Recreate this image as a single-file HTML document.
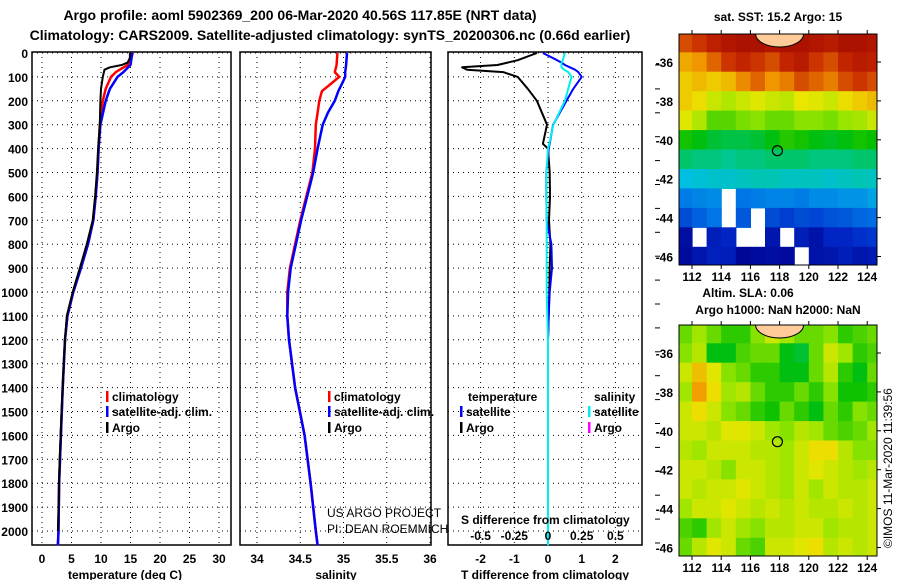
<!DOCTYPE html>
<html><head><meta charset="utf-8"><style>
body{margin:0;background:#fff}
svg{display:block;font-family:"Liberation Sans",sans-serif}
.b{font-weight:bold}
</style></head><body>
<svg id="fig" width="900" height="580" viewBox="0 0 900 580">
<text x="300" y="20" text-anchor="middle" font-size="14" class="b">Argo profile: aoml 5902369_200 06-Mar-2020 40.56S 117.85E (NRT data)</text>
<text x="330" y="40" text-anchor="middle" font-size="14" class="b">Climatology: CARS2009. Satellite-adjusted climatology: synTS_20200306.nc (0.66d earlier)</text>
<text x="778" y="21" text-anchor="middle" font-size="12" class="b">sat. SST: 15.2 Argo: 15</text>
<text x="748" y="297" text-anchor="middle" font-size="12" class="b">Altim. SLA: 0.06</text>
<text x="778" y="314" text-anchor="middle" font-size="12" class="b">Argo h1000: NaN h2000: NaN</text>
<text transform="translate(892,548) rotate(-90)" font-size="12">©IMOS 11-Mar-2020 11:39:56</text>
<g id="panels"></g>
<g id="maps"></g>
</svg>
<script>
// ---- profile data ----
const depthTick = [0,100,200,300,400,500,600,700,800,900,1000,1100,1200,1300,1400,1500,1600,1700,1800,1900,2000];
const tempTicks = [0,5,10,15,20,25,30];
const salTicks = [34,34.5,35,35.5,36];
const salTickLabels = ['34','34.5','35','35.5','36'];
const tdTicks = [-2,-1,0,1,2];
const sdTicks = [-0.5,-0.25,0,0.25,0.5];

const argoTD = [0,20,40,50,60,70,100,150,200,300,400,500,600,700,800,900,1000,1100,1200,1300,1400,1500,1700,1900,2000];
const argoT  = [14.9,14.9,14.5,13.5,11.5,10.6,10.3,10.0,9.9,9.8,9.5,9.3,9.0,8.6,7.6,6.4,5.2,4.2,3.9,3.7,3.5,3.3,3.0,2.8,2.7];
const climTD = [0,50,80,100,150,200,300,400,500,600,700,800,900,1000,1100,1200,1400,1600,1800,2000,2060];
const climT  = [15.4,14.5,12.5,11.7,10.8,10.3,9.8,9.6,9.4,9.1,8.7,7.8,6.6,5.3,4.3,3.9,3.5,3.2,2.9,2.8,2.7];
const satT   = [15.3,15.0,13.8,12.8,11.5,10.8,9.9,9.6,9.4,9.1,8.7,7.8,6.6,5.3,4.3,3.9,3.5,3.2,2.9,2.8,2.7];
const salD   = [0,50,80,100,130,160,200,250,300,400,500,600,700,800,900,1000,1100,1200,1400,1600,1800,2000,2060];
const climS  = [34.93,34.92,34.90,34.95,34.85,34.75,34.72,34.70,34.68,34.67,34.64,34.57,34.50,34.44,34.38,34.35,34.35,34.37,34.44,34.55,34.62,34.68,34.70];
const satS   = [35.04,35.03,35.02,35.02,34.98,34.94,34.90,34.82,34.76,34.70,34.65,34.58,34.51,34.45,34.39,34.36,34.35,34.37,34.44,34.55,34.62,34.68,34.70];
const diffD  = [0,30,40,50,60,70,80,100,150,200,300,380,400,500,600,700,800,900,1000,1100,1200,1500,2000,2060];
const argoTdiff = [-0.33,-0.9,-1.2,-1.5,-2.55,-2.4,-1.33,-0.9,-0.6,-0.33,-0.03,-0.15,0,0.05,0.06,0.03,0.07,0.05,0.04,0.02,0,0,0,0];
const satTdiff  = [-0.15,0.27,0.4,0.5,0.65,0.8,0.9,1.0,0.75,0.55,0.15,0.05,0.02,-0.05,-0.05,-0.04,0.1,0.12,0.05,0.02,0,0,0,0];
const satSdiff  = [0.125,0.11,0.1,0.1,0.1,0.12,0.15,0.175,0.15,0.125,0.04,0.01,0,-0.012,-0.012,-0.01,-0.01,-0.01,-0.01,-0.005,0,0,0,0];

// ---- map data (SST degC, rows lat -35..-46, cols lon 111.5..124.5) ----
const mapLats = [-35,-36,-37,-38,-39,-40,-41,-42,-43,-44,-45,-46];
const sstRows = [
 [18.8,19.0,19.3,19.5,19.6,19.6,19.5,19.6,19.6,19.5,19.4,19.6,19.6,19.5],
 [18.0,18.2,18.6,19.0,19.2,19.0,18.8,19.2,19.4,19.0,18.8,19.2,19.4,19.3],
 [17.6,17.8,17.6,17.8,18.3,18.6,18.2,18.4,18.8,18.6,18.4,18.8,19.0,18.8],
 [17.6,17.4,17.0,16.8,17.0,17.2,17.0,16.9,17.3,17.2,17.0,17.4,17.6,17.8],
 [17.2,16.8,16.2,16.2,16.4,16.5,16.3,16.3,16.5,16.5,16.4,16.6,16.7,17.0],
 [15.8,15.6,15.4,15.3,15.3,15.4,15.6,15.9,15.8,15.6,15.5,15.6,15.8,15.7],
 [15.1,15.0,15.0,14.9,15.0,15.0,15.1,15.1,15.1,15.0,15.0,15.0,15.1,15.1],
 [14.2,14.3,14.4,14.4,14.5,14.6,14.6,14.5,14.5,14.5,14.4,14.5,14.6,14.5],
 [13.3,13.4,13.5,null,13.2,13.3,13.4,13.4,13.3,13.5,13.5,13.6,13.6,13.8],
 [12.6,12.9,13.2,null,12.8,null,12.6,12.4,12.6,12.5,12.7,12.8,13.0,13.1],
 [11.4,null,11.8,12.0,null,null,11.6,null,11.8,11.5,12.0,12.0,12.2,12.3],
 [11.3,11.6,11.9,11.8,11.2,11.3,11.4,11.3,null,11.5,11.6,11.8,11.6,11.7]
];
const slaRows = [
 [0.02,0.04,0.02,0.00,0.00,0.03,0.06,0.04,0.02,0.02,0.03,0.00,0.01,0.02],
 [0.03,0.05,-0.02,-0.02,0.01,0.02,0.02,-0.02,-0.03,0.02,0.06,0.04,0.00,0.01],
 [0.06,0.10,0.07,0.03,0.02,0.00,0.00,-0.02,-0.02,0.02,0.05,0.00,-0.02,0.02],
 [0.04,0.12,0.08,0.04,0.05,0.02,0.00,0.00,0.02,0.00,0.03,-0.01,-0.01,0.00],
 [0.06,0.08,0.06,0.03,0.02,0.00,-0.01,0.02,0.00,-0.02,0.02,0.00,0.03,0.02],
 [0.06,0.06,0.05,0.07,0.07,0.06,0.04,0.03,0.05,0.04,0.02,0.01,0.02,0.04],
 [0.05,0.04,0.06,0.06,0.06,0.05,0.05,0.04,0.06,0.08,0.08,0.05,0.03,0.03],
 [0.06,0.06,0.05,0.03,0.06,0.06,0.05,0.04,0.06,0.07,0.06,0.05,0.04,0.05],
 [0.06,0.05,0.06,0.06,0.07,0.06,0.05,0.04,0.06,0.04,0.06,0.05,0.05,0.06],
 [0.04,0.06,0.06,0.07,0.06,0.05,0.06,0.05,0.06,0.05,0.05,0.06,0.05,0.06],
 [0.01,0.00,0.04,0.06,0.04,0.03,0.05,0.05,0.06,0.06,0.04,0.05,0.05,0.06],
 [0.02,0.05,0.07,0.06,0.02,0.01,0.06,0.06,0.07,0.08,0.05,0.06,0.05,0.06]
];
const mapLonTicks = [112,114,116,118,120,122,124];
const mapLatTicks = [-36,-38,-40,-42,-44,-46];
const argoLon = 117.85, argoLat = -40.56;

const NS='http://www.w3.org/2000/svg';
function mk(p,tag,at){const e=document.createElementNS(NS,tag);for(const k in at)e.setAttribute(k,at[k]);p.appendChild(e);return e;}
const P=document.getElementById('panels');
const yD=d=>53+d*0.239;
const pTop=52,pBot=545;

function panel(name,x0,x1,toX,ticks,labels,xtitle,titleX){
  const g=mk(P,'g',{});
  
  
  ticks.forEach((t,i)=>{
    const x=toX(t);
    const l=mk(g,'line',{x1:x,x2:x,y1:pTop,y2:pBot,stroke:'#000','stroke-width':1,'stroke-dasharray':'1 4'});
    
    
    const tx=mk(g,'text',{x:x,y:563,'text-anchor':'middle','font-size':12,'font-weight':'bold'});
    tx.textContent=labels[i];
    
    
  });
  depthTick.forEach(d=>{
    const l=mk(g,'line',{x1:x0,x2:x1,y1:yD(d),y2:yD(d),stroke:'#000','stroke-width':1,'stroke-dasharray':'1 4'});
    
    
  });
  const r=mk(g,'rect',{x:x0,y:pTop,width:x1-x0,height:pBot-pTop,fill:'none',stroke:'#000','stroke-width':1.5});
  
  
  const t=mk(g,'text',{x:titleX,y:579,'text-anchor':'middle','font-size':12,'font-weight':'bold'});
  t.textContent=xtitle;
  
  
  return g;
}
function line(g,name,xs,ds,toX,color,w){
  const pts=xs.map((v,i)=>toX(v).toFixed(1)+','+yD(ds[i]).toFixed(1)).join(' ');
  const p=mk(g,'polyline',{points:pts,fill:'none',stroke:color,'stroke-width':w,'stroke-linejoin':'round'});
  
  
}
function legend(g,x,y,color,label){
  const m=mk(g,'rect',{x:x,y:y-10,width:2.5,height:11,fill:color});
  
  
  const t=mk(g,'text',{x:x+6,y:y,'font-size':12,'font-weight':'bold'});
  t.textContent=label;
  
  
}
// y labels
depthTick.forEach(d=>{
  const t=mk(P,'text',{x:28,y:yD(d)+5,'text-anchor':'end','font-size':12,'font-weight':'bold'});
  t.textContent=d;
  
  
});
// panel 1
const xT=v=>42+v*5.9;
const g1=panel('temperature-panel',32,231,xT,tempTicks,tempTicks.map(String),'temperature (deg C)',125);
line(g1,'temp-climatology-line',climT,climTD,xT,'#f00',2.5);
line(g1,'temp-satellite-line',satT,climTD,xT,'#00f',2.5);
line(g1,'temp-argo-line',argoT,argoTD,xT,'#000',2);
legend(g1,106,401,'#f00','climatology');
legend(g1,106,416,'#00f','satellite-adj. clim.');
legend(g1,106,432,'#000','Argo');
// panel 2
const xS=v=>257+(v-34)*86.5;
const g2=panel('salinity-panel',240,431,xS,salTicks,salTickLabels,'salinity',336);
line(g2,'sal-climatology-line',climS,salD,xS,'#f00',2.5);
line(g2,'sal-satellite-line',satS,salD,xS,'#00f',2.5);
legend(g2,328,401,'#f00','climatology');
legend(g2,328,416,'#00f','satellite-adj. clim.');
legend(g2,328,432,'#000','Argo');
const u1=mk(g2,'text',{x:327,y:517,'font-size':12});u1.textContent='US ARGO PROJECT';


const u2=mk(g2,'text',{x:327,y:533,'font-size':12});u2.textContent='PI: DEAN ROEMMICH';


// panel 3
const xDT=v=>548+v*33.7;
const xDS=v=>548+v*4*33.7;
const g3=panel('difference-panel',448,642,xDT,tdTicks,tdTicks.map(String),'T difference from climatology',545);
line(g3,'argo-t-diff-line',argoTdiff,diffD,xDT,'#000',2);
line(g3,'sat-t-diff-line',satTdiff,diffD,xDT,'#00f',2);
line(g3,'sat-s-diff-line',satSdiff,diffD,xDS,'#0ee',2);
[['temperature',468],['salinity',594]].forEach(a=>{const t=mk(g3,'text',{x:a[1],y:401,'font-size':12,'font-weight':'bold'});t.textContent=a[0];

});
legend(g3,460,416,'#00f','satellite');
legend(g3,460,432,'#000','Argo');
legend(g3,588,416,'#0ee','satellite');
legend(g3,588,432,'#f0f','Argo');
const st=mk(g3,'text',{x:461,y:524,'font-size':12,'font-weight':'bold'});st.textContent='S difference from climatology';


sdTicks.forEach(s=>{const t=mk(g3,'text',{x:xDS(s),y:540,'text-anchor':'middle','font-size':12,'font-weight':'bold'});t.textContent=String(s);

});
depthTick.forEach(d=>{const l=mk(P,'line',{x1:655,x2:660,y1:yD(d)+12,y2:yD(d)+12,stroke:'#000'});

});

// ---- maps ----
const stops=[[0,[0,0,140]],[0.12,[0,40,200]],[0.25,[0,120,230]],[0.35,[0,190,230]],[0.43,[0,200,150]],[0.52,[0,190,0]],[0.62,[150,230,0]],[0.7,[235,230,0]],[0.8,[240,150,0]],[0.9,[200,40,0]],[1,[150,0,0]]];
function cmap(f){f=Math.max(0,Math.min(1,f));for(let i=1;i<stops.length;i++){if(f<=stops[i][0]){const a=stops[i-1],b=stops[i],t=(f-a[0])/(b[0]-a[0]);return 'rgb('+a[1].map((c,k)=>Math.round(c+(b[1][k]-c)*t)).join(',')+')';}}return 'rgb(150,0,0)';}
const M=document.getElementById('maps');
function drawMap(name,y0,y1,rows,fn){
  const x0=679,x1=877;
  const lonX=l=>692+(l-112)*14.6;
  const latY=la=>(y0===34?62:353)+(-36-la)*19.45;
  const g=mk(M,'g',{});
  
  
  const cp=mk(g,'clipPath',{id:name+'-clip'});mk(cp,'rect',{x:x0,y:y0,width:x1-x0,height:y1-y0});
  const cg=mk(g,'g',{'clip-path':'url(#'+name+'-clip)'});
  mk(cg,'rect',{x:x0,y:y0,width:x1-x0,height:y1-y0,fill:'#fff'});
  rows.forEach((row,r)=>row.forEach((v,c)=>{
    if(v===null)return;
    const lon=111+c, la=mapLats[r]+0.5;
    const cell=mk(cg,'rect',{x:lonX(lon).toFixed(1),y:latY(la).toFixed(1),width:15.2,height:20,fill:cmap(fn(v))});
    
    
  }));
  const land=mk(cg,'ellipse',{cx:lonX(118),cy:y0,rx:24,ry:13,fill:'#ffcc99',stroke:'#000','stroke-width':1});
  
  
  const circ=mk(g,'circle',{cx:lonX(argoLon),cy:latY(argoLat),r:5,fill:'none',stroke:'#000','stroke-width':1.2});
  
  
  mk(g,'rect',{x:x0,y:y0,width:x1-x0,height:y1-y0,fill:'none',stroke:'#000','stroke-width':1});
  mapLonTicks.forEach(l=>{
    mk(g,'line',{x1:lonX(l),x2:lonX(l),y1:y1,y2:y1+4,stroke:'#000'});
    mk(g,'line',{x1:lonX(l),x2:lonX(l),y1:y0,y2:y0-4,stroke:'#000'});
    const t=mk(g,'text',{x:lonX(l),y:y1+16,'text-anchor':'middle','font-size':12,'font-weight':'bold'});t.textContent=l;
    
    
  });
  mapLatTicks.forEach(la=>{
    mk(g,'line',{x1:x1,x2:x1+4,y1:latY(la),y2:latY(la),stroke:'#000'});
    const t=mk(g,'text',{x:673,y:latY(la)+5,'text-anchor':'end','font-size':12,'font-weight':'bold'});t.textContent=la;
    
    
  });
}
drawMap('sst-map',34,265,sstRows,v=>(v-11)/9);
drawMap('sla-map',325,556,slaRows,v=>0.55+v*2.0);
</script>
</body></html>
